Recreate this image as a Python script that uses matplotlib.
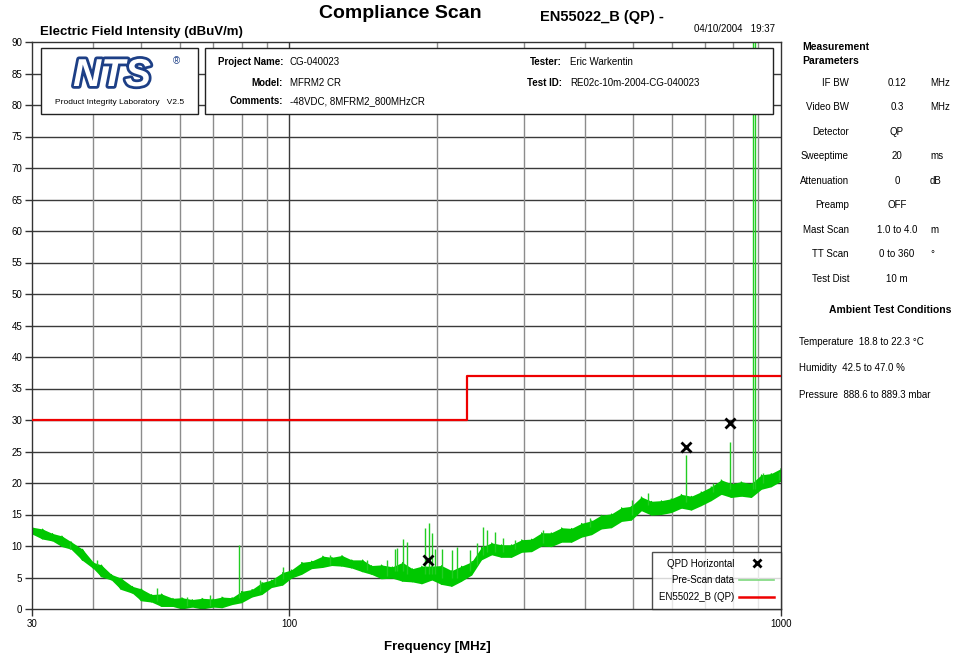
import matplotlib.pyplot as plt
import matplotlib.patheffects as pe
from matplotlib.patches import Rectangle
from matplotlib.lines import Line2D
import numpy as np

plt.rcParams['font.family'] = ['Liberation Sans', 'DejaVu Sans']

# pre-scan trace (MHz, band low / high in dBuV/m)
freq = [30, 31.5, 33, 34.5, 36, 38, 40, 41.5, 43.5, 45.5, 48, 50, 52.5, 55, 58, 60.5,
        63.5, 66.5, 70, 73, 76.5, 80, 84, 88, 92, 97, 101, 106, 111, 117, 122, 128,
        134, 141, 147, 154, 162, 170, 178, 186, 195, 204, 214, 224, 235, 246, 258, 270,
        283, 297, 311, 326, 341, 358, 375, 393, 412, 431, 452, 474, 496, 520, 545, 571,
        598, 627, 657, 688, 721, 756, 792, 830, 870, 912, 955, 1000]
lo = [11.9, 11.1, 10.8, 9.9, 9.5, 7.7, 6.4, 5.1, 4.6, 3.1, 2.5, 1.3, 1.1, 0.4, 0.4, 0.0,
      0.3, 0.0, 0.3, 0.2, 0.7, 1.0, 1.9, 2.3, 3.4, 3.8, 4.9, 5.5, 6.4, 6.6, 6.9, 6.8,
      6.5, 5.9, 5.5, 4.8, 4.9, 4.4, 4.3, 4.0, 4.6, 3.9, 3.6, 4.4, 5.4, 7.8, 8.6, 8.2,
      8.2, 9.0, 9.1, 10.0, 9.9, 10.6, 10.6, 11.4, 11.8, 12.7, 12.9, 13.9, 14.1, 15.6, 14.9, 15.0,
      15.3, 16.0, 15.7, 16.4, 17.2, 18.2, 17.7, 17.9, 17.7, 19.0, 19.4, 20.3]
hi = [13.0, 12.7, 12.0, 11.6, 10.7, 9.5, 7.4, 7.0, 5.5, 4.9, 3.6, 3.2, 2.3, 2.4, 1.7, 1.8,
      1.5, 1.7, 1.6, 1.9, 1.8, 2.8, 3.1, 4.2, 4.6, 5.8, 6.2, 7.4, 7.6, 8.4, 8.2, 8.5,
      7.8, 7.8, 6.9, 7.0, 6.7, 7.4, 6.4, 6.8, 6.8, 6.9, 6.1, 6.8, 7.5, 9.8, 10.5, 10.2,
      10.2, 11.0, 11.1, 12.1, 12.1, 12.9, 12.8, 13.6, 14.0, 14.9, 15.1, 16.1, 16.3, 17.8, 17.1, 17.2,
      17.5, 18.2, 17.9, 18.6, 19.4, 20.5, 19.9, 20.2, 19.9, 21.3, 21.5, 22.3]

# narrow spikes and noise peaks in the pre-scan
spike_freq = [35.9, 40.7, 53.9, 62, 69, 79, 87.2, 93.6, 97.2, 121, 144, 158,
              164, 166, 170, 174, 189, 192, 195, 198, 205, 214, 219, 233, 241, 248,
              253, 262, 272, 288, 328, 409, 498, 536, 641, 726, 788, 877, 885, 920, 990]
spike_base = [9.6, 7.0, 1.2, 0.5, 0.5, 1.8, 2.8, 4.0, 4.8, 7.0, 6.2, 5.2,
              6.0, 6.0, 6.0, 5.5, 5.5, 5.5, 5.5, 5.5, 5.0, 5.0, 5.0, 6.0, 7.0, 8.5,
              9.0, 9.0, 9.0, 9.5, 10.5, 13.0, 15.0, 16.5, 17.0, 18.5, 19.0, 19.0, 19.0, 20.0, 20.5]
spike_top = [10.5, 7.8, 3.3, 1.9, 2.2, 10.2, 4.6, 4.9, 6.7, 8.6, 7.8, 7.8,
             9.5, 9.7, 11.1, 10.6, 12.8, 13.6, 12.0, 9.5, 9.5, 9.4, 9.9, 9.4, 10.4, 13.0,
             12.5, 12.2, 11.2, 11.0, 12.5, 14.4, 17.3, 18.4, 24.4, 20.0, 26.5, 90, 90, 21.6, 21.8]

# QP final measurements
qp_freq = [191.5, 641, 788]
qp_level = [7.8, 25.7, 29.5]

# EN55022 class B limit
lim_freq = [30, 230, 1000]
lim_level = [30, 37, 37]

W, H = 959, 659


def fx(x):
    return x / W


def fy(y):
    return 1 - y / H


fig = plt.figure(figsize=(9.59, 6.59), dpi=100)
ax = fig.add_axes([fx(32), fy(609), fx(781 - 32), (609 - 42) / H])

ax.set_xscale('log')
ax.set_xlim(30, 1000)
ax.set_ylim(0, 90)

# grid
for v in range(5, 90, 5):
    ax.axhline(v, color='#3a3a3a', lw=1.0, zorder=1)
for f in [40, 50, 60, 70, 80, 90, 200, 300, 400, 500, 600, 700, 800, 900]:
    ax.axvline(f, color='#8c8c8c', lw=1.0, zorder=1)
ax.axvline(100, color='#3a3a3a', lw=1.0, zorder=1)

green = '#00c800'
ax.fill_between(freq, lo, hi, color=green, lw=0, zorder=2)
saw_x = np.repeat(freq, 2)
saw_y = np.column_stack([lo, hi]).ravel()
ax.plot(saw_x, saw_y, color=green, lw=0.7, zorder=2)
ax.vlines(spike_freq, spike_base, spike_top, color='#22cc22', lw=1.0, zorder=2)

ax.plot(lim_freq, lim_level, color='#ee0000', lw=1.6, drawstyle='steps-post', zorder=3)
ax.plot(qp_freq, qp_level, ls='none', marker='x', ms=7, mew=2, color='black', zorder=4)

ax.set_xticks([30, 100, 1000])
ax.set_xticklabels(['30', '100', '1000'])
ax.xaxis.set_minor_locator(plt.NullLocator())
ax.set_yticks(range(0, 91, 5))
ax.tick_params(axis='both', labelsize=7, length=5, width=1, color='#333333', pad=2)
for s in ax.spines.values():
    s.set_color('#333333')
    s.set_linewidth(1.0)

# legend
handles = [Line2D([], [], ls='none', marker='x', ms=6, mew=2, color='black'),
           Line2D([], [], color='#7ed87e', lw=1.2),
           Line2D([], [], color='#ee0000', lw=1.8)]
leg = ax.legend(handles, ['QPD Horizontal', 'Pre-Scan data', 'EN55022_B (QP)'],
                loc='lower right', markerfirst=False, fontsize=7, frameon=True,
                fancybox=False, borderaxespad=0, handlelength=3.6, labelspacing=0.7,
                borderpad=0.7, handletextpad=0.5)
leg.get_frame().set_edgecolor('#222222')
leg.get_frame().set_linewidth(1.0)
leg.set_zorder(10)

# titles
fig.text(fx(400), fy(14), 'Compliance Scan', fontsize=14, fontweight='bold',
         ha='center', va='center')
fig.text(fx(540), fy(17), 'EN55022_B (QP) -', fontsize=10.5, fontweight='bold',
         ha='left', va='center')
fig.text(fx(775), fy(29), '04/10/2004   19:37', fontsize=7, ha='right', va='center')
fig.text(fx(40), fy(32), 'Electric Field Intensity (dBuV/m)', fontsize=9.5,
         fontweight='bold', ha='left', va='center')
fig.text(fx(437), fy(647), 'Frequency [MHz]', fontsize=9.5, fontweight='bold',
         ha='center', va='center')

# logo box
fig.add_artist(Rectangle((fx(41), fy(114)), fx(198 - 41), (114 - 48) / H,
                         transform=fig.transFigure, facecolor='white',
                         edgecolor='#222222', lw=1.0, zorder=20))
fig.text(fx(112), fy(76), 'NTS', fontsize=28, fontweight='heavy', fontstyle='italic',
         color='white', ha='center', va='center', zorder=21,
         path_effects=[pe.withStroke(linewidth=4, foreground='#1d3f86')])
fig.text(fx(176), fy(61), '®', fontsize=7, color='#1d3f86', ha='center', va='center', zorder=21)
fig.text(fx(120), fy(103), 'Product Integrity Laboratory   V2.5', fontsize=6,
         ha='center', va='center', zorder=21)

# project info box
fig.add_artist(Rectangle((fx(205), fy(114)), fx(773 - 205), (114 - 48) / H,
                         transform=fig.transFigure, facecolor='white',
                         edgecolor='#222222', lw=1.0, zorder=20))
info_left = [('Project Name:', 'CG-040023', 62), ('Model:', 'MFRM2 CR', 83),
             ('Comments:', '-48VDC, 8MFRM2_800MHzCR', 101)]
info_right = [('Tester:', 'Eric Warkentin', 62), ('Test ID:', 'RE02c-10m-2004-CG-040023', 83)]
for lab, val, y in info_left:
    fig.text(fx(283), fy(y), lab, fontsize=7, fontweight='bold', ha='right', va='center', zorder=21)
    fig.text(fx(290), fy(y), val, fontsize=7, ha='left', va='center', zorder=21)
for lab, val, y in info_right:
    fig.text(fx(562), fy(y), lab, fontsize=7, fontweight='bold', ha='right', va='center', zorder=21)
    fig.text(fx(570), fy(y), val, fontsize=7, ha='left', va='center', zorder=21)

# measurement parameters panel
fig.text(fx(802), fy(47), 'Measurement', fontsize=7.5, fontweight='bold', ha='left', va='center')
fig.text(fx(802), fy(61), 'Parameters', fontsize=7.5, fontweight='bold', ha='left', va='center')
params = [('IF BW', '0.12', 'MHz'), ('Video BW', '0.3', 'MHz'), ('Detector', 'QP', ''),
          ('Sweeptime', '20', 'ms'), ('Attenuation', '0', 'dB'), ('Preamp', 'OFF', ''),
          ('Mast Scan', '1.0 to 4.0', 'm'), ('TT Scan', '0 to 360', '°'),
          ('Test Dist', '10 m', '')]
row_y = [83, 107, 132, 156, 181, 205, 230, 254, 279]
for (lab, val, unit), y in zip(params, row_y):
    fig.text(fx(849), fy(y), lab, fontsize=7, ha='right', va='center')
    fig.text(fx(897), fy(y), val, fontsize=7, ha='center', va='center')
    fig.text(fx(930), fy(y), unit, fontsize=7, ha='left', va='center')

fig.text(fx(890), fy(310), 'Ambient Test Conditions', fontsize=7.5, fontweight='bold',
         ha='center', va='center')
ambient = ['Temperature  18.8 to 22.3 °C', 'Humidity  42.5 to 47.0 %',
           'Pressure  888.6 to 889.3 mbar']
for txt, y in zip(ambient, [342, 368, 395]):
    fig.text(fx(799), fy(y), txt, fontsize=7, ha='left', va='center')

fig.savefig('out.png', dpi=100)
